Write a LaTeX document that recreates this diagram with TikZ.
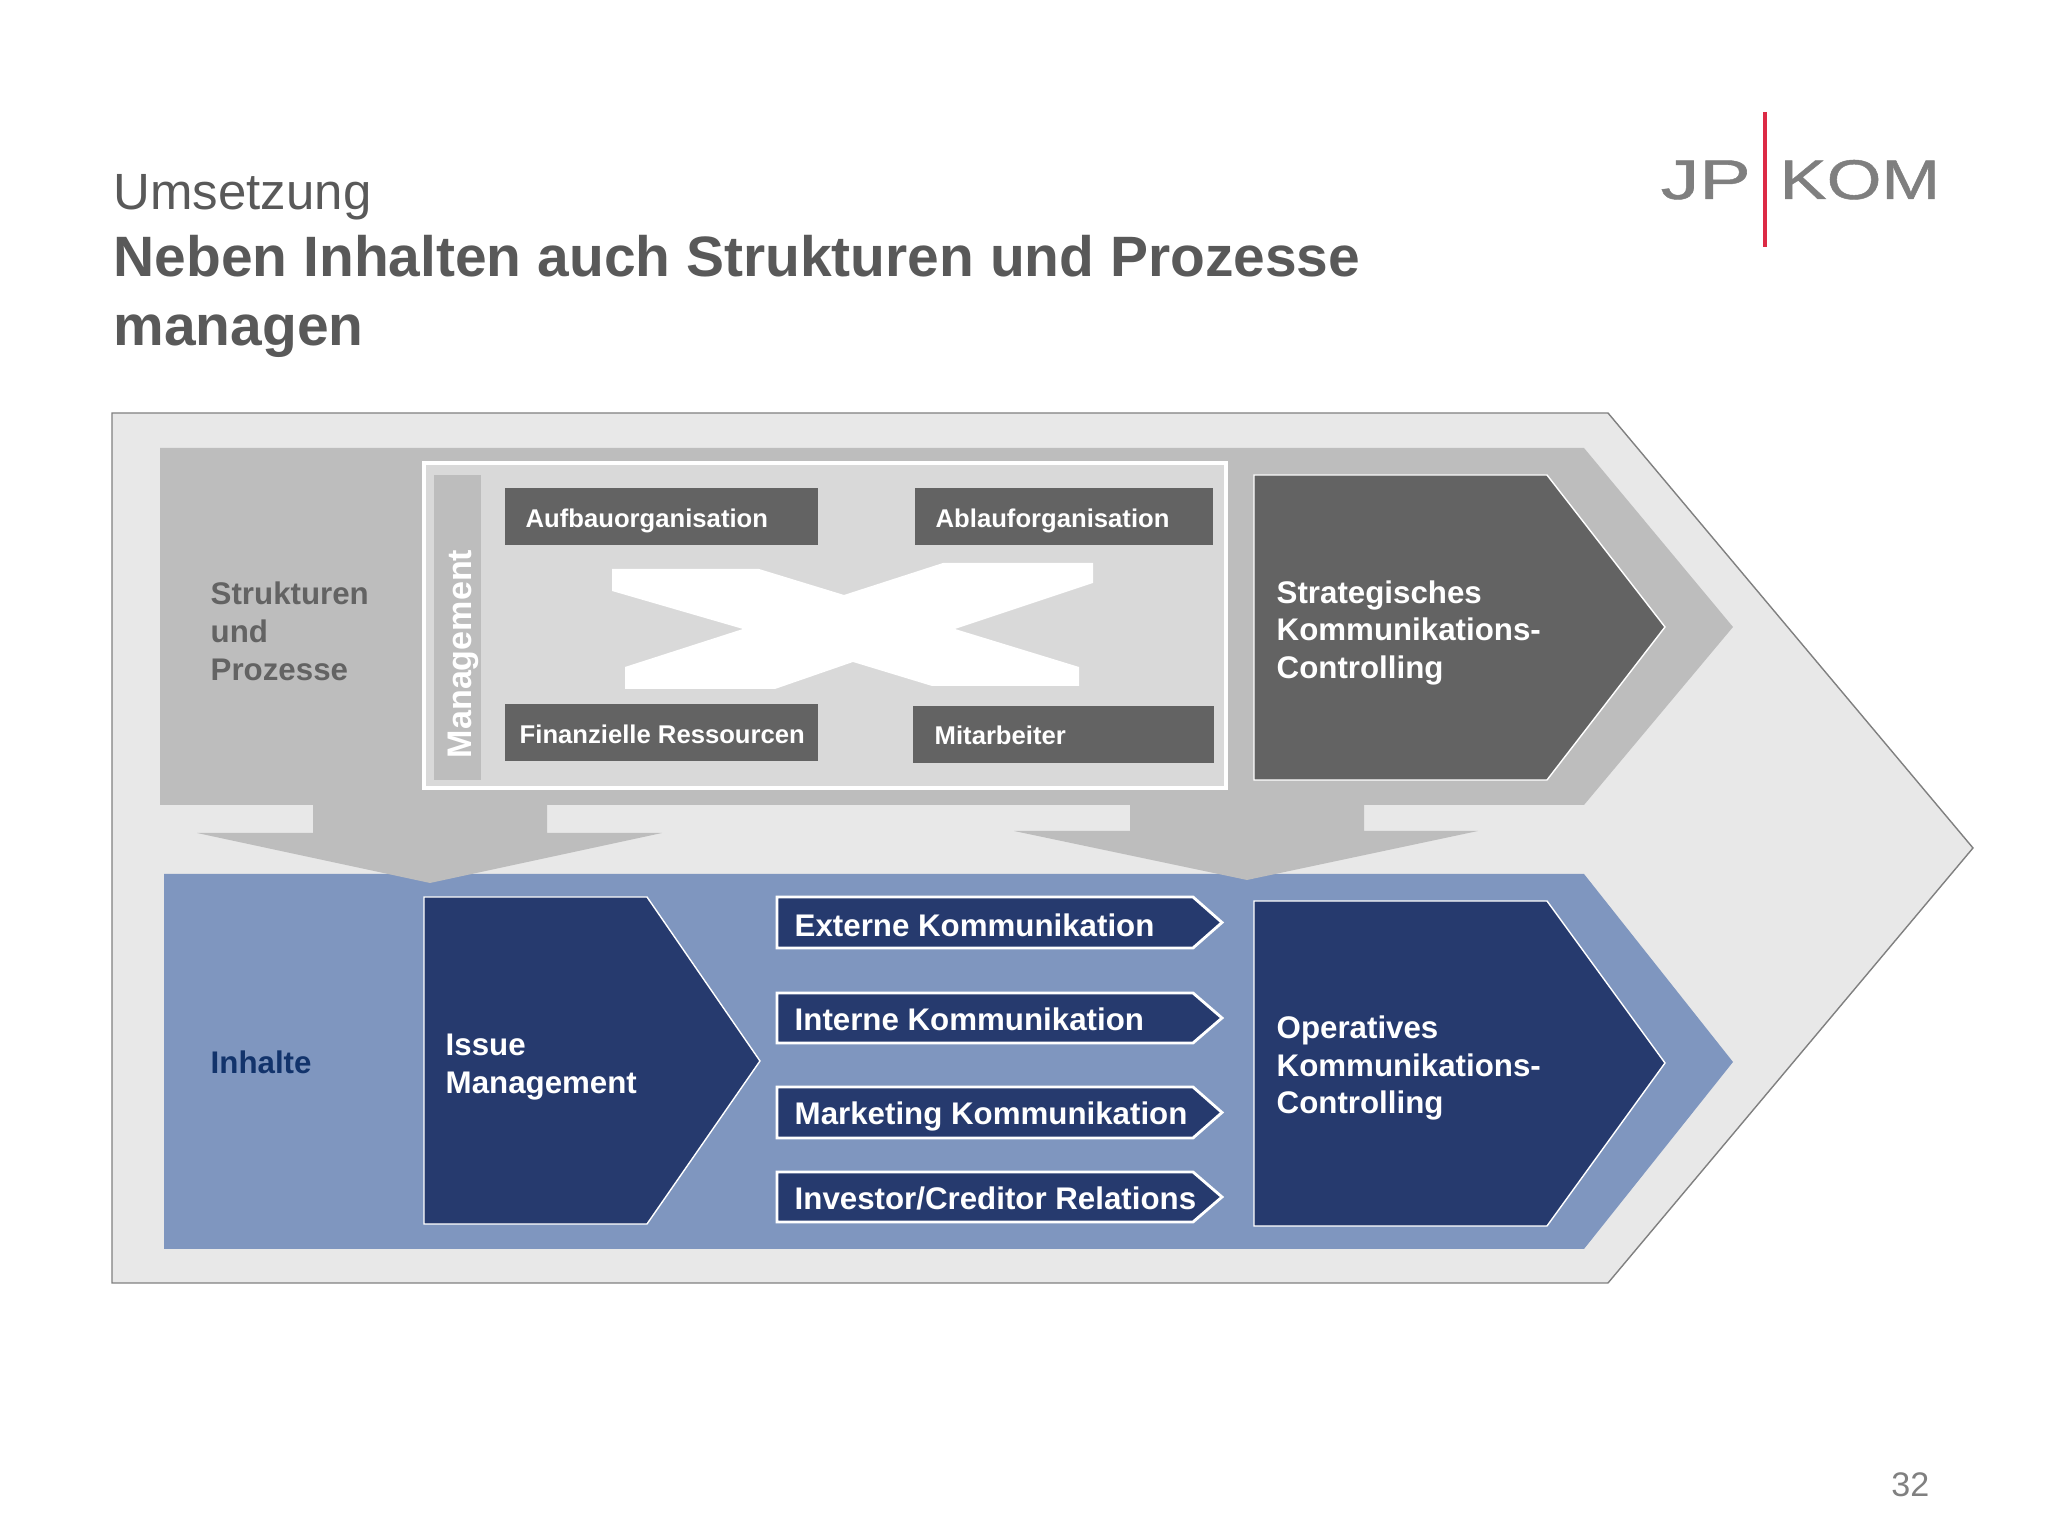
\documentclass[tikz,border=0pt]{standalone}
\usepackage{fontspec}
\setmainfont{Liberation Sans}
\newfontfamily\logofont[FakeBold=0.8]{Liberation Sans}
\usetikzlibrary{positioning}

\definecolor{titlegrey}{HTML}{595959}
\definecolor{outergrey}{HTML}{E8E8E8}
\definecolor{bandgrey}{HTML}{BDBDBD}
\definecolor{panelgrey}{HTML}{D9D9D9}
\definecolor{darkgrey}{HTML}{636363}
\definecolor{bandblue}{HTML}{7F96BF}
\definecolor{darkblue}{HTML}{263A6E}
\definecolor{labelblue}{HTML}{12336B}
\definecolor{logored}{HTML}{DC2A45}
\definecolor{logogrey}{HTML}{7F7F7F}

\tikzset{
  txt/.style={inner sep=0pt, align=left, font=\bfseries\fontsize{8.9}{10.8}\selectfont},
  darkbox/.style={rectangle, fill=darkgrey, minimum width=3.13cm, minimum height=0.57cm, inner sep=0pt},
  boxtxt/.style={inner sep=0pt, anchor=base west, text=white, font=\bfseries\fontsize{7.3}{9}\selectfont},
  bigarrow/.style={draw=white, line width=0.4pt},
  smallarrow/.style={draw=white, line width=0.8pt, fill=darkblue},
  arrowtxt/.style={inner sep=0pt, anchor=base west, text=white, font=\bfseries\fontsize{8.9}{10.8}\selectfont}
}

\begin{document}
\begin{tikzpicture}
\useasboundingbox (0,0) rectangle (20.48,15.36);

% Title
\node[inner sep=0pt, anchor=base west, text=titlegrey, font=\fontsize{14.5}{17}\selectfont] (kicker) at (1.13,13.26) {Umsetzung};
\node[inner sep=0pt, anchor=base west, text=titlegrey, font=\bfseries\fontsize{16.2}{19.6}\selectfont] (titleone) at (1.13,12.59) {Neben Inhalten auch Strukturen und Prozesse};
\node[inner sep=0pt, anchor=base west, text=titlegrey, font=\bfseries\fontsize{16.2}{19.6}\selectfont] (titletwo) at (1.13,11.90) {managen};

% Logo
\node[inner sep=0pt, anchor=base west, text=logogrey, font=\logofont\fontsize{15.9}{18}\selectfont] (logojp) at (16.60,13.37) {\scalebox{1.38}[1]{JP}};
\node[inner sep=0pt, anchor=base west, text=logogrey, font=\logofont\fontsize{15.9}{18}\selectfont] (logokom) at (17.79,13.37) {\scalebox{1.26}[1]{KOM}};
\draw[logored, line width=1pt] (17.65,14.24) -- (17.65,12.89);

% Outer arrow
\draw[draw=gray, line width=0.4pt, fill=outergrey] (1.12,11.23) -- (16.08,11.23) -- (19.73,6.88) -- (16.08,2.53) -- (1.12,2.53) -- cycle;

% Blue band
\fill[bandblue] (1.64,6.62) -- (15.84,6.62) -- (17.33,4.74) -- (15.84,2.87) -- (1.64,2.87) -- cycle;

% Grey band with the two arrows pointing down
\fill[bandgrey] (1.60,10.88) -- (15.84,10.88) -- (17.33,9.09) -- (15.84,7.31)
  -- (13.64,7.31) -- (13.64,7.05) -- (14.78,7.05) -- (12.47,6.56) -- (10.14,7.05) -- (11.30,7.05) -- (11.30,7.31)
  -- (5.47,7.31) -- (5.47,7.03) -- (6.62,7.03) -- (4.30,6.53) -- (1.97,7.03) -- (3.13,7.03) -- (3.13,7.31)
  -- (1.60,7.31) -- cycle;

% Panel in the grey band
\node[draw=white, line width=0.04cm, rectangle, fill=panelgrey, minimum width=8.02cm, minimum height=3.25cm] (panel) at (8.25,9.105) {};
\node[rectangle, fill=bandgrey, minimum width=0.47cm, minimum height=3.05cm, inner sep=0pt] (mgmt) at (4.575,9.085) {};
\node[inner sep=0pt, rotate=90, text=white, font=\bfseries\fontsize{9.7}{11}\selectfont] (mgmttxt) at (4.63,8.82) {Management};

% The four boxes
\node[darkbox] (aufbau) at (6.615,10.195) {};
\node[darkbox, minimum width=2.985cm] (ablauf) at (10.640,10.195) {};
\node[darkbox] (finanz) at (6.615,8.035) {};
\node[darkbox, minimum width=3.01cm] (mitarb) at (10.635,8.015) {};
\node[boxtxt] (aufbautxt) at (5.25,10.08) {Aufbauorganisation};
\node[boxtxt] (ablauftxt) at (9.35,10.08) {Ablauforganisation};
\node[boxtxt] (finanztxt) at (5.19,7.92) {Finanzielle Ressourcen};
\node[boxtxt] (mitarbtxt) at (9.34,7.91) {Mitarbeiter};

% White cross
\fill[white] (6.12,9.67) -- (7.59,9.67) -- (8.44,9.41) -- (9.43,9.73) -- (10.93,9.73) -- (10.93,9.53) -- (9.55,9.07)
  -- (10.79,8.69) -- (10.79,8.50) -- (9.32,8.50) -- (8.53,8.74) -- (7.75,8.47) -- (6.25,8.47) -- (6.25,8.69)
  -- (7.43,9.07) -- (6.12,9.45) -- cycle;

% Right hand arrows
\draw[bigarrow, fill=darkgrey] (12.54,10.61) -- (15.47,10.61) -- (16.65,9.09) -- (15.47,7.56) -- (12.54,7.56) -- cycle;
\draw[bigarrow, fill=darkblue] (12.54,6.35) -- (15.47,6.35) -- (16.65,4.73) -- (15.47,3.10) -- (12.54,3.10) -- cycle;
\node[txt, anchor=west, text=white] (strat) at (12.76,9.03) {Strategisches\\Kommunikations-\\Controlling};
\node[txt, anchor=west, text=white] (oper) at (12.76,4.68) {Operatives\\Kommunikations-\\Controlling};

% Left hand labels
\node[txt, anchor=west, text=darkgrey] (struk) at (2.10,9.05) {Strukturen\\und\\Prozesse};
\node[txt, anchor=west, text=labelblue] (inhalte) at (2.10,4.74) {Inhalte};

% Issue management
\draw[bigarrow, fill=darkblue] (4.24,6.39) -- (6.47,6.39) -- (7.60,4.75) -- (6.47,3.12) -- (4.24,3.12) -- cycle;
\node[txt, anchor=west, text=white] (issue) at (4.45,4.69) {Issue\\Management};

% Small arrows
\draw[smallarrow] (7.77,6.39) -- (11.93,6.39) -- (12.22,6.135) -- (11.93,5.88) -- (7.77,5.88) -- cycle;
\draw[smallarrow] (7.77,5.43) -- (11.93,5.43) -- (12.22,5.18) -- (11.93,4.93) -- (7.77,4.93) -- cycle;
\draw[smallarrow] (7.77,4.49) -- (11.93,4.49) -- (12.22,4.235) -- (11.93,3.98) -- (7.77,3.98) -- cycle;
\draw[smallarrow] (7.77,3.64) -- (11.93,3.64) -- (12.22,3.39) -- (11.93,3.14) -- (7.77,3.14) -- cycle;
\node[arrowtxt] (extern) at (7.94,5.99) {Externe Kommunikation};
\node[arrowtxt] (intern) at (7.94,5.05) {Interne Kommunikation};
\node[arrowtxt] (market) at (7.94,4.11) {Marketing Kommunikation};
\node[arrowtxt] (invest) at (7.94,3.26) {Investor/Creditor Relations};

% Page number
\node[inner sep=0pt, anchor=base east, text=gray, font=\fontsize{9.7}{11}\selectfont] (pagenum) at (19.30,0.39) {32};

\end{tikzpicture}
\end{document}
